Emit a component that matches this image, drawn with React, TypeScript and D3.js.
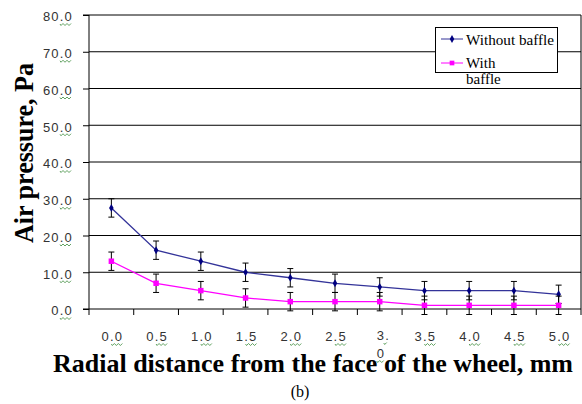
import React, { useEffect, useRef } from "react";
import * as d3 from "d3";

const categories = ["0.0", "0.5", "1.0", "1.5", "2.0", "2.5", "3.0", "3.5", "4.0", "4.5", "5.0"];
const withoutBaffle = [27.5, 16, 13, 10, 8.5, 7, 6, 5, 5, 5, 4];
const withBaffle = [13, 7, 5, 3, 2, 2, 2, 1, 1, 1, 1];
const errWithout = [2.5, 2.5, 2.5, 2.5, 2.5, 2.5, 2.5, 2.5, 2.5, 2.5, 2.5];
const errWith = [2.5, 2.5, 2.5, 2.5, 2.5, 2.5, 2.5, 2.5, 2.5, 2.5, 2.5];
const yTicks = [0, 10, 20, 30, 40, 50, 60, 70, 80];

const W = 582;
const H = 404;
const sans = "Liberation Sans, Arial, sans-serif";
const serif = "'Liberation Serif', 'Times New Roman', serif";

// little green spell-check squiggle under a label
const squiggle = (x: number, y: number, w: number) => {
    let p = `M${x},${y}`;
    for (let i = 0; i < w; i += 2) p += ` L${x + i + 1},${y + (i % 4 === 0 ? 1.5 : -0.5)}`;
    return p;
};

export default function App() {
    const svgRef = useRef<SVGSVGElement>(null);

    useEffect(() => {
        const left = 89, right = 581, top = 15, bottom = 309;
        const svg = d3.select(svgRef.current);
        svg.selectAll("*").remove();

        const x = d3.scaleBand().domain(categories).range([left, right]).padding(0);
        const y = d3.scaleLinear().domain([0, 80]).range([bottom, top]);
        const cx = (c: string) => x(c)! + x.bandwidth() / 2;

        // gridlines
        svg.append("g")
            .selectAll("line")
            .data(yTicks.filter((t) => t > 0))
            .join("line")
            .attr("x1", left).attr("x2", right)
            .attr("y1", (d) => y(d)).attr("y2", (d) => y(d))
            .attr("stroke", "#000").attr("stroke-width", 1);

        // right frame
        svg.append("line").attr("x1", right).attr("x2", right).attr("y1", top).attr("y2", bottom)
            .attr("stroke", "#000");

        // y axis
        const yAxis = svg.append("g").attr("transform", `translate(${left},0)`)
            .call(d3.axisLeft(y).tickValues(yTicks).tickSize(6).tickFormat((d) => (d as number).toFixed(1)));
        yAxis.select(".domain").attr("stroke", "#000").attr("d", `M-6,${top}H0V${bottom}`);
        yAxis.selectAll("text").attr("font-family", sans).attr("letter-spacing", 1.2)
            .attr("font-size", 13).attr("fill", "#333").attr("x", -16).attr("dy", "0.45em");
        yTicks.forEach((t) => {
            svg.append("path").attr("d", squiggle(60, y(t) + 9, 12))
                .attr("fill", "none").attr("stroke", "#3a8a3a").attr("stroke-width", 0.8);
        });

        // x axis
        const xAxis = svg.append("g").attr("transform", `translate(0,${bottom})`);
        xAxis.append("line").attr("x1", left - 6).attr("x2", right).attr("stroke", "#000");
        xAxis.selectAll("line.tk")
            .data(d3.range(categories.length + 1))
            .join("line")
            .attr("class", "tk")
            .attr("x1", (i) => left + i * x.step()).attr("x2", (i) => left + i * x.step())
            .attr("y1", 0).attr("y2", 6).attr("stroke", "#000");
        categories.forEach((c) => {
            const px = cx(c) + 1;
            if (c === "3.0") {
                // the original label wraps onto two lines
                svg.append("text").attr("x", px - 4).attr("y", 340).text("3.").attr("letter-spacing", 1.2)
                    .attr("font-family", sans).attr("font-size", 13).attr("fill", "#333");
                svg.append("text").attr("x", px - 4).attr("y", 358).text("0")
                    .attr("font-family", sans).attr("font-size", 13).attr("fill", "#333");
                svg.append("path").attr("d", squiggle(px + 3, 343, 4))
                    .attr("fill", "none").attr("stroke", "#3a8a3a").attr("stroke-width", 0.8);
                svg.append("path").attr("d", squiggle(px - 4, 361, 8))
                    .attr("fill", "none").attr("stroke", "#3a8a3a").attr("stroke-width", 0.8);
            } else {
                svg.append("text").attr("x", px).attr("y", 341).attr("text-anchor", "middle").text(c)
                    .attr("letter-spacing", 1.2)
                    .attr("font-family", sans).attr("font-size", 13).attr("fill", "#333");
                svg.append("path").attr("d", squiggle(px - 1, 344, 12))
                    .attr("fill", "none").attr("stroke", "#3a8a3a").attr("stroke-width", 0.8);
            }
        });

        const series = [
            { vals: withoutBaffle, err: errWithout, color: "#333399", mark: "#000080", shape: d3.symbolDiamond, size: 18 },
            { vals: withBaffle, err: errWith, color: "#ff00ff", mark: "#ff00ff", shape: d3.symbolSquare, size: 30 },
        ];

        series.forEach((s) => {
            const line = d3.line<number>().x((_, i) => cx(categories[i])).y((d) => y(d));
            svg.append("path").attr("d", line(s.vals)).attr("fill", "none")
                .attr("stroke", s.color).attr("stroke-width", 1.3);
            // error bars
            const eb = svg.append("g").attr("stroke", "#000").attr("stroke-width", 1);
            s.vals.forEach((v, i) => {
                const px = cx(categories[i]);
                const y1 = y(v + s.err[i]);
                const y2 = y(v - s.err[i]);
                eb.append("line").attr("x1", px).attr("x2", px).attr("y1", y1).attr("y2", y2);
                eb.append("line").attr("x1", px - 3).attr("x2", px + 3).attr("y1", y1).attr("y2", y1);
                eb.append("line").attr("x1", px - 3).attr("x2", px + 3).attr("y1", y2).attr("y2", y2);
            });
            svg.append("g").selectAll("path").data(s.vals).join("path")
                .attr("transform", (d, i) => `translate(${cx(categories[i])},${y(d)})`)
                .attr("d", d3.symbol().type(s.shape).size(s.size)())
                .attr("fill", s.mark);
        });

        // legend
        const lg = svg.append("g");
        lg.append("rect").attr("x", 435.5).attr("y", 27.5).attr("width", 122).attr("height", 45)
            .attr("fill", "#fff").attr("stroke", "#000");
        lg.append("line").attr("x1", 441).attr("x2", 463).attr("y1", 39).attr("y2", 39).attr("stroke", "#333399");
        lg.append("path").attr("transform", "translate(452,39)").attr("d", d3.symbol().type(d3.symbolDiamond).size(18)()).attr("fill", "#000080");
        lg.append("line").attr("x1", 441).attr("x2", 463).attr("y1", 63).attr("y2", 63).attr("stroke", "#ff00ff");
        lg.append("path").attr("transform", "translate(452,63)").attr("d", d3.symbol().type(d3.symbolSquare).size(22)()).attr("fill", "#ff00ff");
        const lt = (t: string, yy: number) => lg.append("text").attr("x", 466).attr("y", yy).text(t)
            .attr("font-family", serif).attr("font-size", 15).attr("fill", "#000");
        lt("Without baffle", 45).attr("textLength", 88).attr("lengthAdjust", "spacingAndGlyphs");
        lt("With", 68);
        lt("baffle", 84);

        // titles
        svg.append("text").attr("transform", "translate(33,153) rotate(-90)").attr("text-anchor", "middle")
            .attr("textLength", 180).attr("lengthAdjust", "spacingAndGlyphs")
            .text("Air pressure, Pa")
            .attr("font-family", serif).attr("font-weight", "bold").attr("font-size", 28);
        svg.append("text").attr("x", 313).attr("y", 372).attr("text-anchor", "middle")
            .attr("textLength", 520).attr("lengthAdjust", "spacingAndGlyphs")
            .text("Radial distance from the face of the wheel, mm")
            .attr("font-family", serif).attr("font-weight", "bold").attr("font-size", 25.5);
        svg.append("text").attr("x", 300).attr("y", 397).attr("text-anchor", "middle").text("(b)")
            .attr("font-family", serif).attr("font-size", 16);
    }, []);

    return (
        <svg ref={svgRef} width={W} height={H}
            style={{ position: "absolute", left: 0, top: 0, background: "#fff" }} />
    );
}
